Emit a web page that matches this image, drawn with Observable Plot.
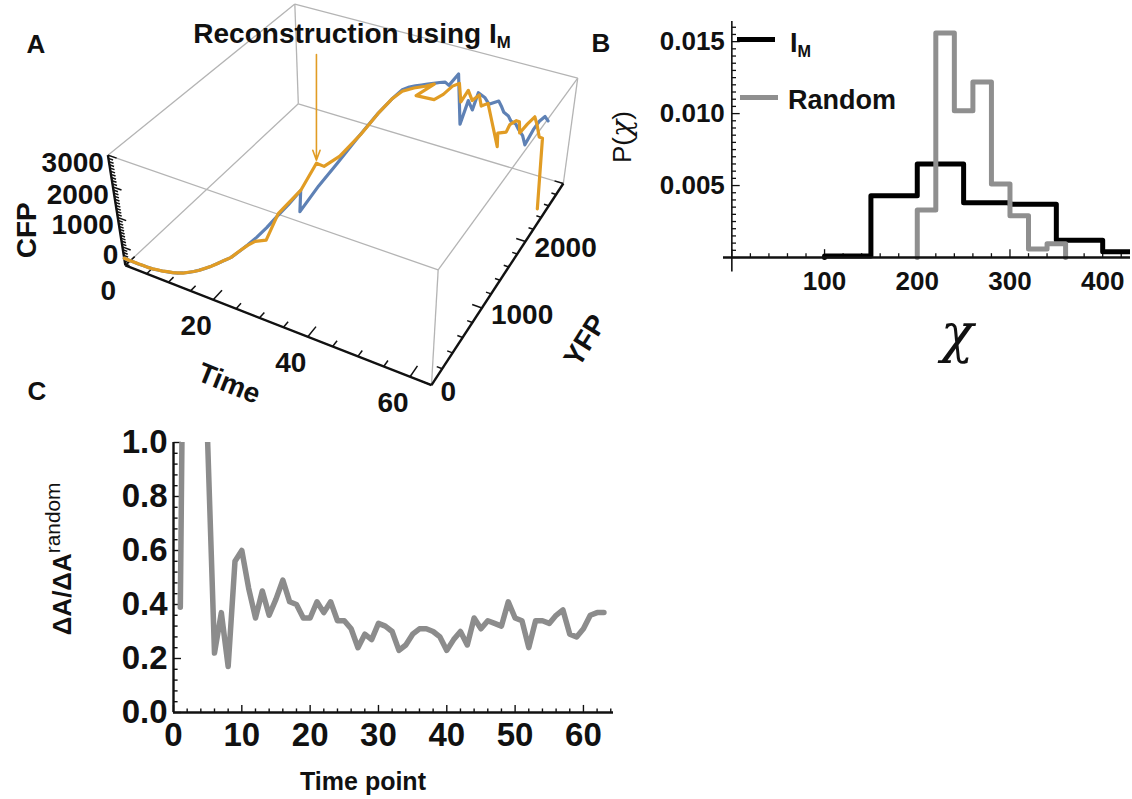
<!DOCTYPE html>
<html><head><meta charset="utf-8">
<script src="https://cdn.jsdelivr.net/npm/d3@7"></script>
<script src="https://cdn.jsdelivr.net/npm/@observablehq/plot@0.6"></script>
<style>
body{margin:0;background:#fff;}
#fig{position:relative;width:1132px;height:799px;overflow:hidden;background:#fff;}
#fig > div.panel{position:absolute;}
</style></head><body><div id="fig"></div>
<script>
// ================= DATA =================
// Panel A : trajectory (Time, YFP, CFP) – original (blue) and reconstruction using I_M (orange)
const timeA = [0,1,2,3,4,5,6,7,8,9,10,11,12,13,14,15,16,17,18,19,20,21,22,23,24,25,26,27,28,29,30,31,
  32,33,34,35,36,37,38,39,40,41,42,43,44,45,46,47,48,49,50,51,52,53,54,55,56,57,58,59,60,61,62,63];
const blueYFP = [
  0,5,10,15,20,25,30,40,50,60,
  70,80,95,110,130,150,170,200,230,265,
  300,360,430,510,600,700,820,950,850,1100,
  1350,1650,1950,2150,2250,2300,2330,2360,2390,2420,
  2450,2470,2450,2550,2550,2600,2600,2600,2650,2650,
  2600,2650,2600,2550,2550,2500,2500,2450,2450,2400,
  2450,2450,2450,2400];
const blueCFP = [
  -400,-420,-440,-460,-470,-480,-490,-495,-495,-490,
  -480,-460,-430,-390,-340,-280,-210,-140,-60,20,
  100,220,350,500,680,900,1100,1350,900,1300,
  1600,1950,2250,2450,2600,2650,2680,2700,2720,2740,
  2760,2780,2750,3000,1360,2120,1850,2470,2270,2090,
  2250,2280,2240,2170,2090,2050,2010,1970,1800,1630,
  2090,2410,2610,2600];
const orangeYFP = [
  0,5,12,15,22,25,30,42,50,62,
  70,82,95,112,130,150,172,200,232,265,
  300,365,430,480,580,720,800,950,1150,1200,
  1400,1700,1950,2150,2250,2400,2550,2650,2150,2450,
  2550,2650,2700,2650,2700,2700,2750,2700,2750,2750,
  2850,2700,2800,2750,2700,2650,2600,2500,2550,2600,
  2550,2500,2450,2400];
const orangeCFP = [
  -400,-425,-440,-455,-470,-485,-490,-490,-500,-485,
  -480,-455,-435,-385,-340,-285,-205,-140,-65,25,
  100,230,340,420,300,950,1150,1350,1900,1750,
  1750,1950,2250,2450,2550,2450,2300,2250,2750,2150,
  2200,2350,2400,1900,2250,1950,2100,1850,1900,1400,
  300,1100,1000,1400,1600,1800,1900,1750,2000,2200,
  2050,1800,1900,-400];
const arrowTime = 28; // reconstruction point marked by the arrow
const tickTimeA = [0,20,40,60];
const tickCFP = [0,1000,2000,3000];
const tickYFP = [0,1000,2000];
const rangeTime = [0,64], rangeYFP = [0,3000], rangeCFP = [-650,3000];

// Panel B : histograms P(chi)
const binEdgesIM = [100,150,200,250,300,350,400,450];
const densityIM  = [0.0001,0.0043,0.0065,0.0038,0.0037,0.0012,0.0004];
const binEdgesRandom = [200,220,240,260,280,300,320,340,360];
const densityRandom  = [0.0033,0.0156,0.0102,0.0122,0.0051,0.0029,0.0006,0.00095];
const tickChi = [100,200,300,400];
const tickP = [0.005,0.010,0.015];

// Panel C : Delta A / Delta A random vs time point
const timePoint = [1,2,3,4,5,6,7,8,9,10,11,12,13,14,15,16,17,18,19,20,21,22,23,24,25,26,27,28,29,30,
  31,32,33,34,35,36,37,38,39,40,41,42,43,44,45,46,47,48,49,50,51,52,53,54,55,56,57,58,59,60,61,62,63];
const ratioDA = [
  0.39,3,3,3,1.0,0.22,0.37,0.17,0.56,0.60,
  0.46,0.35,0.45,0.36,0.42,0.49,0.41,0.40,0.35,0.35,
  0.41,0.37,0.41,0.34,0.34,0.31,0.24,0.29,0.27,0.33,
  0.32,0.30,0.23,0.25,0.29,0.31,0.31,0.30,0.28,0.23,
  0.27,0.30,0.25,0.35,0.31,0.34,0.33,0.32,0.41,0.35,
  0.34,0.24,0.34,0.34,0.33,0.36,0.38,0.29,0.28,0.31,
  0.36,0.37,0.37];
const tickTimeC = [0,10,20,30,40,50,60];
const tickRatio = [0,0.2,0.4,0.6,0.8,1.0];

// ================= STYLE =================
const BLUE = "#5E81B5", ORANGE = "#E19C24", GRAYLINE = "#8c8c8c";
const FONT = "'Liberation Sans', Arial, Helvetica, sans-serif";
const CHI_FONT = "'DejaVu Serif', 'Liberation Serif', serif";
const fig = document.getElementById("fig");

function place(svg, left, top){
  const d = document.createElement("div"); d.className = "panel";
  d.style.left = left + "px"; d.style.top = top + "px";
  d.appendChild(svg); fig.appendChild(d);
}
function label(html, cx, cy, o = {}){
  const {size = 26, weight = "bold", rotate = 0, anchor = "middle", family = FONT, color = "#111", italic = false} = o;
  const tx = anchor === "start" ? "0%" : anchor === "end" ? "-100%" : "-50%";
  const d = document.createElement("div");
  d.innerHTML = html;
  d.style.cssText = `position:absolute;left:${cx}px;top:${cy}px;font-family:${family};font-size:${size}px;font-weight:${weight};font-style:${italic ? "italic" : "normal"};line-height:1;white-space:nowrap;color:${color};transform:translate(${tx},-50%) rotate(${rotate}deg);`;
  fig.appendChild(d);
  return d;
}

// ================= PANEL A (3D, perspective projection) =================
const EYE = [1.3,-2.4,2.0];          // view point relative to box centre
const BOX = [1,1,0.4];               // box ratios
const CAM = {cx:354, cy:170, k:1129}; // screen placement of the projection
function makeProjection(){
  const L = Math.hypot(...EYE);
  const f = EYE.map(v => -v / L);
  let r = [f[1], -f[0], 0]; const rl = Math.hypot(...r); r = r.map(v => v / rl);
  const u = [r[1]*f[2]-r[2]*f[1], r[2]*f[0]-r[0]*f[2], r[0]*f[1]-r[1]*f[0]];
  return (t, Y, Z) => {
    const p = [
      ((t - rangeTime[0])/(rangeTime[1]-rangeTime[0]) - 0.5)*BOX[0],
      ((Y - rangeYFP[0])/(rangeYFP[1]-rangeYFP[0]) - 0.5)*BOX[1],
      ((Z - rangeCFP[0])/(rangeCFP[1]-rangeCFP[0]) - 0.5)*BOX[2]];
    const d = [p[0]-EYE[0], p[1]-EYE[1], p[2]-EYE[2]];
    const dep = d[0]*f[0]+d[1]*f[1]+d[2]*f[2];
    return {x: CAM.cx + CAM.k*(d[0]*r[0]+d[1]*r[1]+d[2]*r[2])/dep,
            y: CAM.cy - CAM.k*(d[0]*u[0]+d[1]*u[1]+d[2]*u[2])/dep};
  };
}
const P = makeProjection();
const T0 = rangeTime[0], T1 = rangeTime[1], Y0 = rangeYFP[0], Y1 = rangeYFP[1], Z0 = rangeCFP[0], Z1 = rangeCFP[1];
const seg = (a, b) => { const p = P(...a), q = P(...b); return {x1:p.x, y1:p.y, x2:q.x, y2:q.y}; };

const boxEdges = [];
const R = [[T0,T1],[Y0,Y1],[Z0,Z1]];
for (const i of [0,1]) for (const j of [0,1]) for (const k of [0,1]) {
  const c = [R[0][i], R[1][j], R[2][k]];
  if (i === 0) boxEdges.push(seg(c, [T1, c[1], c[2]]));
  if (j === 0) boxEdges.push(seg(c, [c[0], Y1, c[2]]));
  if (k === 0) boxEdges.push(seg(c, [c[0], c[1], Z1]));
}
const axesA = [seg([T0,Y0,Z0],[T1,Y0,Z0]), seg([T0,Y0,Z0],[T0,Y0,Z1]), seg([T1,Y0,Z0],[T1,Y1,Z0])];
const ticksA = [];
for (let t = 0; t <= 60; t += 5) { const L = (t % 20 === 0 ? 0.045 : 0.025)*(Y1-Y0); ticksA.push(seg([t,Y0,Z0],[t,Y0+L,Z0])); }
for (let z = -600; z <= 3000; z += 100) { const L = (z % 1000 === 0 ? 0.03 : 0.016)*(T1-T0); ticksA.push(seg([T0,Y0,z],[T0+L,Y0,z])); }
for (let y = 0; y <= 3000; y += 200) { const L = (y % 1000 === 0 ? 0.03 : 0.016)*(T1-T0); ticksA.push(seg([T1,y,Z0],[T1-L,y,Z0])); }

const blueRows = timeA.map((t,i) => P(t, blueYFP[i], blueCFP[i]));
const orangeRows = timeA.map((t,i) => P(t, orangeYFP[i], orangeCFP[i]));
const ai = timeA.indexOf(arrowTime);
const arrowTip = P(arrowTime, orangeYFP[ai], orangeCFP[ai]);

const WA = 640, HA = 430;
const txt = {fontSize:28, fontWeight:"bold", fill:"#111"};
const plotA = Plot.plot({
  width: WA, height: HA, margin: 0,
  x: {domain:[0,WA], range:[0,WA], axis:null},
  y: {domain:[0,HA], range:[0,HA], axis:null},
  style: {background:"none", fontFamily: FONT, overflow:"visible"},
  marks: [
    Plot.link(boxEdges, {x1:"x1", y1:"y1", x2:"x2", y2:"y2", stroke:"#b4b4b4", strokeWidth:1.3}),
    Plot.link(axesA, {x1:"x1", y1:"y1", x2:"x2", y2:"y2", stroke:"#111", strokeWidth:2.4}),
    Plot.link(ticksA, {x1:"x1", y1:"y1", x2:"x2", y2:"y2", stroke:"#111", strokeWidth:1.5}),
    Plot.line(blueRows, {x:"x", y:"y", stroke:BLUE, strokeWidth:3.2, strokeLinejoin:"round"}),
    Plot.line(orangeRows, {x:"x", y:"y", stroke:ORANGE, strokeWidth:3.2, strokeLinejoin:"round"}),
    Plot.arrow([arrowTip], {x1:"x", x2:"x", y1:() => 54, y2: d => d.y - 3, stroke:ORANGE, strokeWidth:1.6, headLength:10, headAngle:40}),
    Plot.text(tickTimeA, {x: t => P(t,Y0,Z0).x, y: t => P(t,Y0,Z0).y, text: d => String(d), dx:-17, dy:26, textAnchor:"middle", ...txt}),
    Plot.text(tickCFP, {x: z => P(T0,Y0,z).x, y: z => P(T0,Y0,z).y, text: d => String(d), dx:-4, dy:8, textAnchor:"end", ...txt}),
    Plot.text(tickYFP, {x: y => P(T1,y,Z0).x, y: y => P(T1,y,Z0).y, text: d => String(d), dx:9, dy:7, textAnchor:"start", ...txt}),
    Plot.text(["Time"], {x: () => P(32,Y0,Z0).x, y: () => P(32,Y0,Z0).y, dx:-40, dy:62, rotate:22, text: d => d, ...txt}),
    Plot.text(["CFP"], {x: () => P(T0,Y0,1175).x, y: () => P(T0,Y0,1175).y, dx:-90, dy:18, rotate:-90, text: d => d, ...txt}),
    Plot.text(["YFP"], {x: () => P(T1,1500,Z0).x, y: () => P(T1,1500,Z0).y, dx:81, dy:67, rotate:-58, text: d => d, ...txt})
  ]
});
place(plotA, 0, 0);

// ================= PANEL B =================
function stepPoints(edges, dens){
  const pts = [{x: edges[0], y: 0}];
  dens.forEach((d, i) => pts.push({x: edges[i], y: d}));
  pts.push({x: edges[edges.length-1], y: 0});
  return pts;
}
const imSteps = stepPoints(binEdgesIM, densityIM);
const randomSteps = stepPoints(binEdgesRandom, densityRandom);
const chiMinor = d3.range(0, 421, 20), pMinor = d3.range(0, 0.01626, 0.0005);
const plotB = Plot.plot({
  width: 482, height: 310, marginLeft: 73, marginRight: 2, marginTop: 21, marginBottom: 38.6,
  x: {domain:[-9,430], axis:null},
  y: {domain:[-0.001,0.0164], axis:null},
  style: {background:"none", fontFamily: FONT, overflow:"visible"},
  marks: [
    Plot.link(pMinor, {x1: () => 0, x2: d => (Math.abs(d/0.005 - Math.round(d/0.005)) < 1e-6 ? 8.5 : 4.5), y1: d => d, y2: d => d, stroke:"#111", strokeWidth:1.3}),
    Plot.link(chiMinor, {x1: d => d, x2: d => d, y1: () => 0, y2: d => (d % 100 === 0 ? 0.00058 : 0.0003), stroke:"#111", strokeWidth:1.3}),
    Plot.ruleX([0], {y1:-0.001, y2:0.0164, stroke:"#111", strokeWidth:1.6}),
    Plot.line(imSteps, {x:"x", y:"y", curve:"step-after", stroke:"#000", strokeWidth:5, clip:true}),
    Plot.line(randomSteps, {x:"x", y:"y", curve:"step-after", stroke:"#8f8f8f", strokeWidth:5, clip:true}),
    Plot.ruleY([0], {x1:-9, x2:430, stroke:"#111", strokeWidth:2.4}),
    Plot.text(tickChi, {x: d => d, y: () => 0, text: d => String(d), dy:14, lineAnchor:"top", textAnchor:"middle", fontSize:26, fontWeight:"bold", fill:"#111"}),
    Plot.text(tickP, {x: () => 0, y: d => d, text: d => d.toFixed(3), dx:-7, textAnchor:"end", fontSize:26, fontWeight:"bold", fill:"#111"})
  ]
});
place(plotB, 650, 0);

// ================= PANEL C =================
const rows = timePoint.map((t, i) => ({t, v: ratioDA[i]}));
const tMinor = d3.range(0, 64.1, 2), vMinor = d3.range(0, 1.001, 0.04);
const plotC = Plot.plot({
  width: 580, height: 379, marginLeft: 113, marginRight: 27, marginTop: 22, marginBottom: 87,
  x: {domain:[0,64.4], axis:null},
  y: {domain:[0,1], axis:null},
  style: {background:"none", fontFamily: FONT, overflow:"visible"},
  marks: [
    Plot.link(vMinor, {x1: () => 0, x2: d => (Math.abs(d/0.2 - Math.round(d/0.2)) < 1e-6 ? 1.1 : 0.6), y1: d => d, y2: d => d, stroke:"#111", strokeWidth:1.4}),
    Plot.link(tMinor, {x1: d => d, x2: d => d, y1: () => 0, y2: d => (d % 10 === 0 ? 0.028 : 0.015), stroke:"#111", strokeWidth:1.4}),
    Plot.line(rows, {x:"t", y:"v", stroke:GRAYLINE, strokeWidth:5.5, strokeLinejoin:"round", clip:true}),
    Plot.ruleX([0], {y1:0, y2:1, stroke:"#111", strokeWidth:2.4}),
    Plot.ruleY([0], {x1:0, x2:64.4, stroke:"#111", strokeWidth:2.4}),
    Plot.text(tickTimeC, {x: d => d, y: () => 0, text: d => String(d), dy:10, lineAnchor:"top", textAnchor:"middle", fontSize:33, fontWeight:"bold", fill:"#111"}),
    Plot.text(tickRatio, {x: () => 0, y: d => d, text: d => d.toFixed(1), dx:-6, textAnchor:"end", fontSize:33, fontWeight:"bold", fill:"#111"})
  ]
});
place(plotC, 60, 420);

// ================= TEXT LABELS =================
label("A", 36, 44, {size:26});
label("B", 601, 43, {size:26});
label("C", 37, 391, {size:26});
label('Reconstruction using I<span style="font-size:0.6em;position:relative;top:0.32em">M</span>', 352, 34, {size:28});
// legend of B
const lg1 = document.createElement("div"); lg1.style.cssText = "position:absolute;left:737px;top:37px;width:38px;height:5px;background:#000"; fig.appendChild(lg1);
const lg2 = document.createElement("div"); lg2.style.cssText = "position:absolute;left:740px;top:95px;width:38px;height:5px;background:#8f8f8f"; fig.appendChild(lg2);
label('I<span style="font-size:0.6em;position:relative;top:0.32em">M</span>', 790, 43, {size:27, anchor:"start"});
label("Random", 788, 100, {size:27, anchor:"start"});
label(`P(<span style="font-family:${CHI_FONT};font-style:italic;font-size:1.1em">χ</span>)`, 621, 137, {size:26, weight:"normal", rotate:-90});
label("χ", 957, 334, {size:54, weight:"normal", family:CHI_FONT, italic:true});
// C labels
label("Time point", 363, 781, {size:25});
label('ΔA/ΔA<span style="font-size:0.8em;font-weight:normal;position:relative;top:-0.55em">random</span>', 62, 559, {size:26, rotate:-90});
</script></body></html>
